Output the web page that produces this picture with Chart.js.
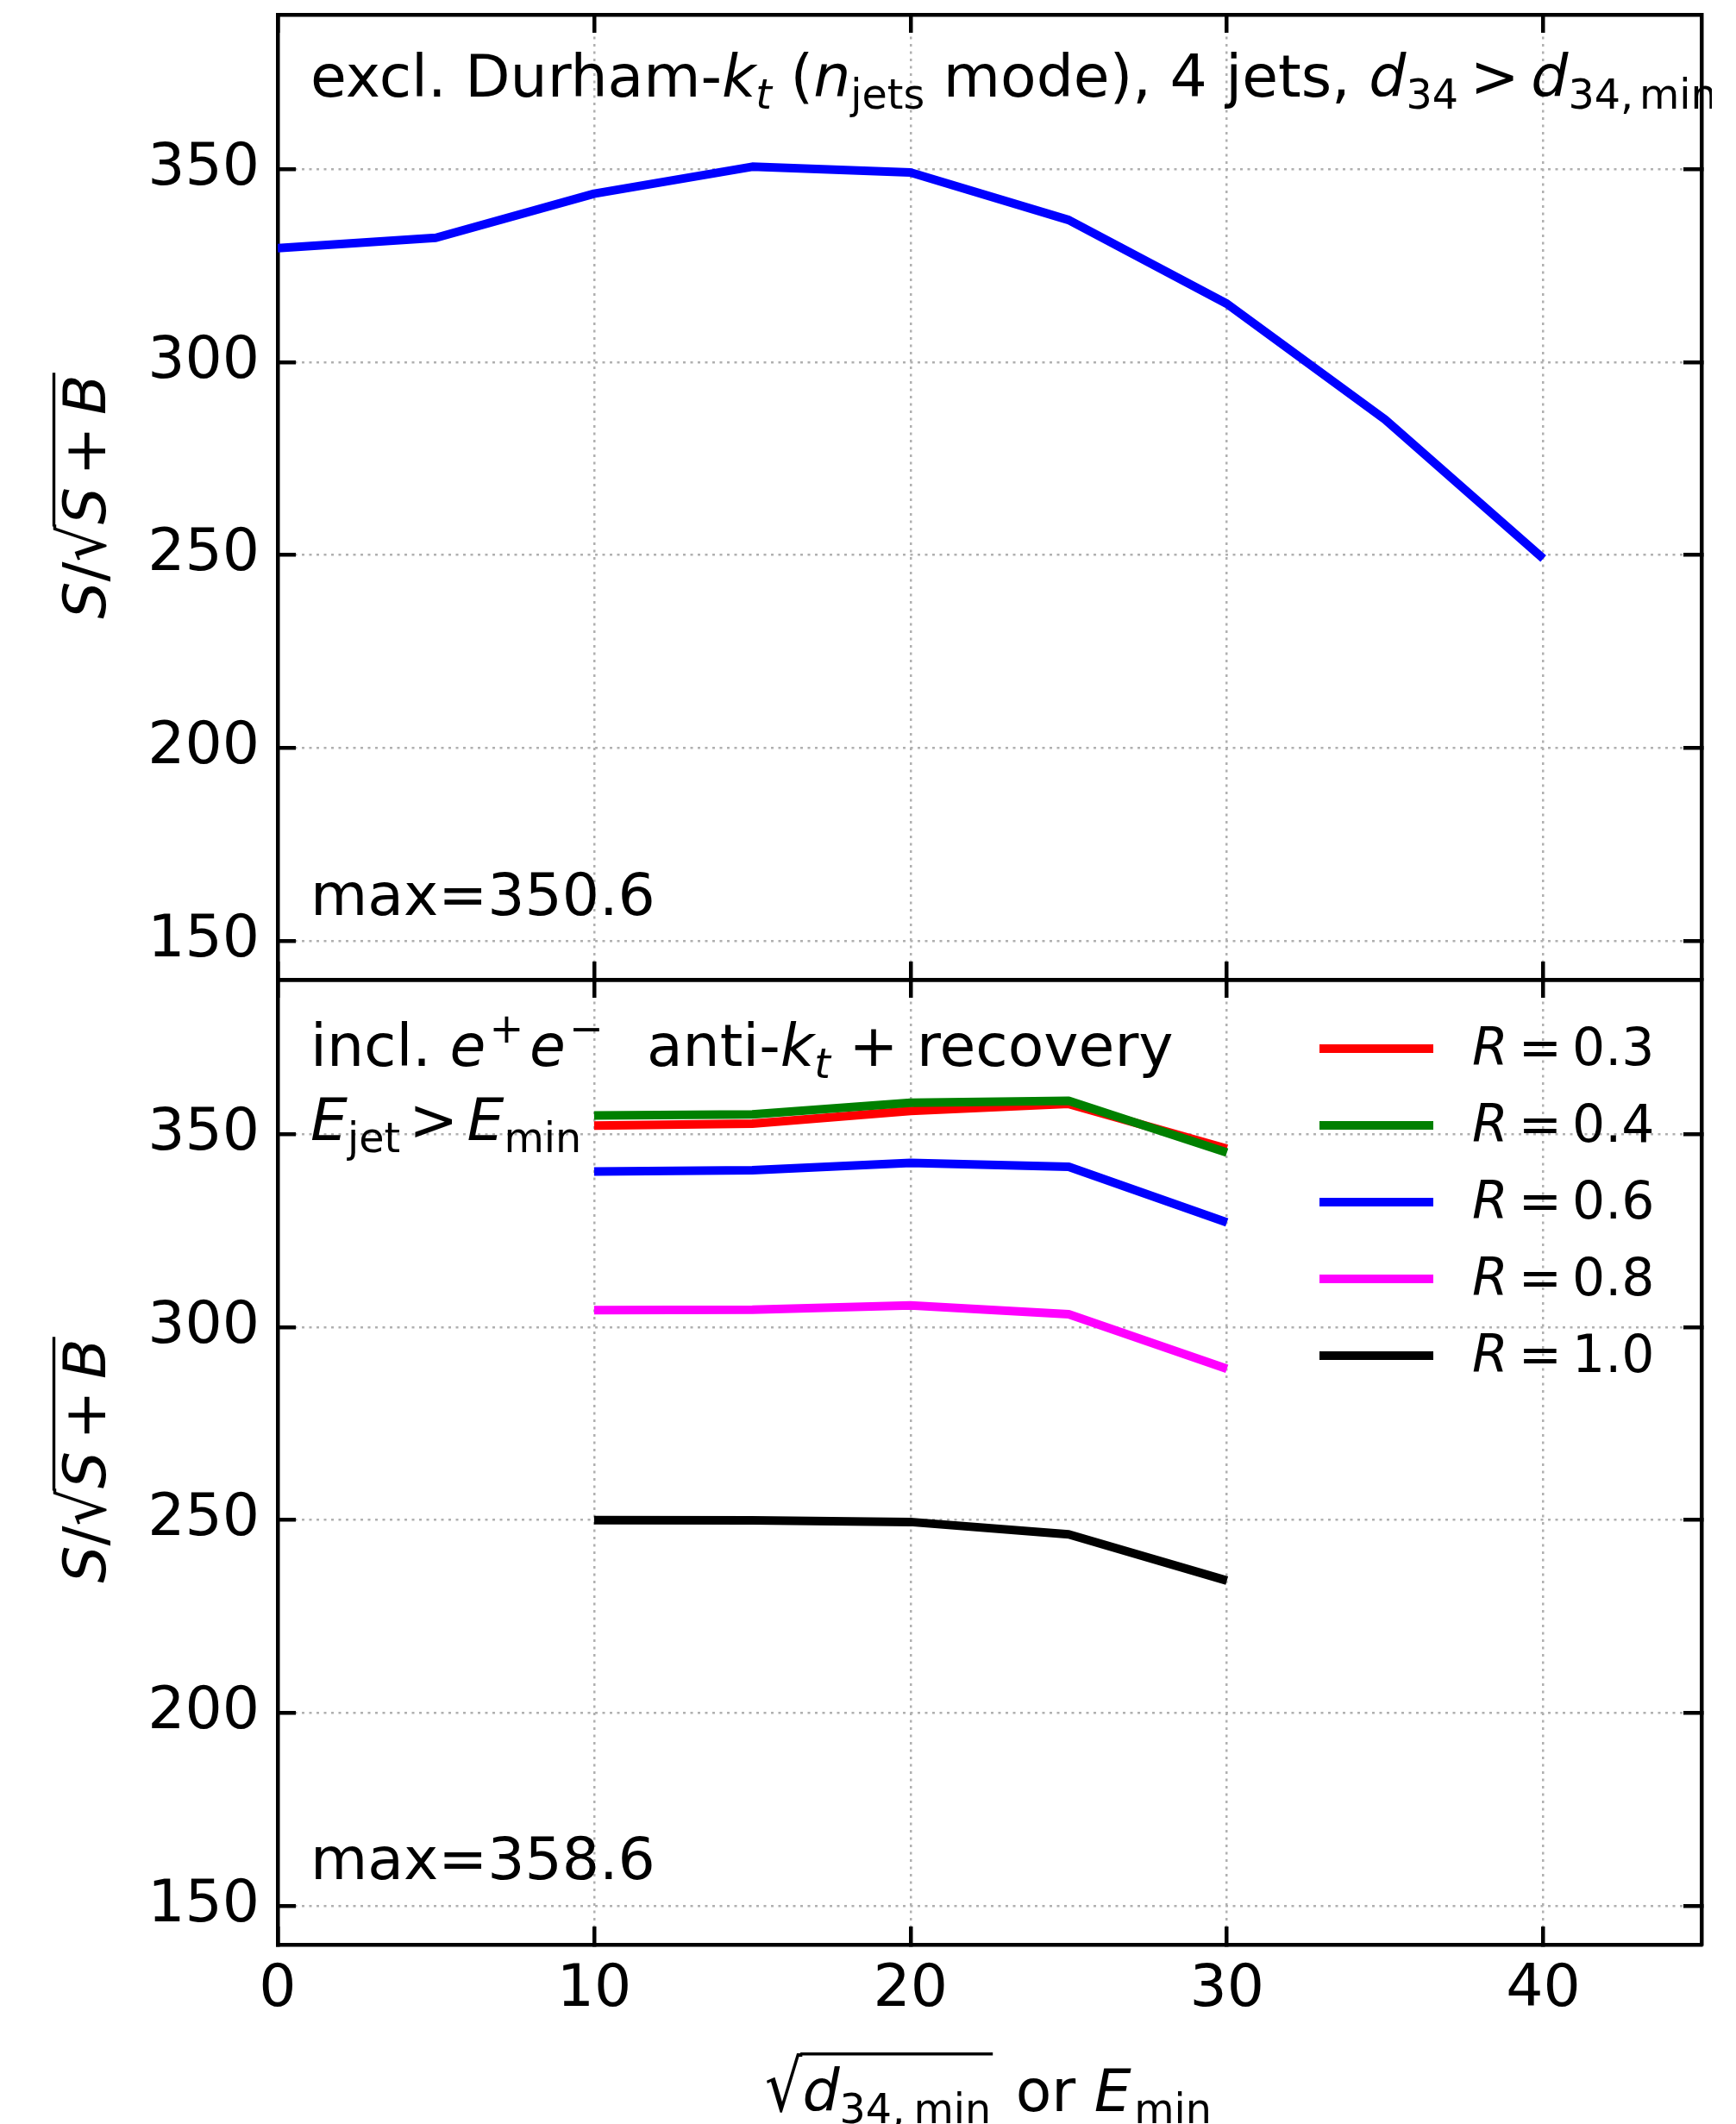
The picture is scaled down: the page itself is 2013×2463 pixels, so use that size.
<!DOCTYPE html>
<html>
<head>
<meta charset="utf-8">
<script src="https://cdn.jsdelivr.net/npm/chart.js@4.4.0/dist/chart.umd.min.js"></script>
<style>
  html, body { margin: 0; padding: 0; background: #fff; }
  #wrap { position: relative; width: 2013px; height: 2463px; }
  #wrap canvas { position: absolute; left: 0; top: 0; }
</style>
</head>
<body>
<div id="wrap">
  <canvas id="topChart" width="2013" height="2463"></canvas>
  <canvas id="bottomChart" width="2013" height="2463"></canvas>
</div>
<script>
// cut values: sqrt(d34,min) for Durham, E_min for anti-kt
const cutDurham = [0, 5, 10, 15, 20, 25, 30, 35, 40];
const durhamSig = [329.5, 332.2, 343.6, 350.6, 349.1, 336.8, 315.1, 285.1, 249.1];

const cutAntiKt = [10, 15, 20, 25, 30];
const sigR03 = [352.2, 352.7, 356.0, 357.8, 346.2];
const sigR04 = [354.8, 355.1, 358.1, 358.6, 345.2];
const sigR06 = [340.3, 340.6, 342.5, 341.5, 327.1];
const sigR08 = [304.4, 304.5, 305.6, 303.3, 289.2];
const sigR10 = [250.0, 249.9, 249.5, 246.3, 234.3];

const radii = ['0.3', '0.4', '0.6', '0.8', '1.0'];
const radiusColors = ['#ff0000', '#008000', '#0000ff', '#ff00ff', '#000000'];

const xTicks = [0, 10, 20, 30, 40];
const yTicks = [150, 200, 250, 300, 350];

Chart.defaults.font.family = '"DejaVu Sans"';
Chart.defaults.color = '#000';

const FONT = '"DejaVu Sans"';

// draws mixed text: italic pieces, sub/superscripts, small gaps and a radical with overline
function drawRich(ctx, parts, x, y, size, align) {
  const segs = parts.map(p => {
    if (p.gap) return { p, w: p.gap * size, dy: 0 };
    const s = (p.sub || p.sup) ? size * 0.7 : size;
    const font = (p.it ? 'italic ' : '') + s + 'px ' + FONT;
    ctx.font = font;
    return { p, font, w: ctx.measureText(p.t).width, dy: p.sub ? size * 0.2 : (p.sup ? -size * 0.4 : 0) };
  });
  const total = segs.reduce((a, s) => a + s.w, 0);
  let cx = align === 'center' ? x - total / 2 : x;
  ctx.textAlign = 'left';
  ctx.textBaseline = 'alphabetic';
  ctx.fillStyle = '#000';
  let over = null;
  segs.forEach(s => {
    if (s.p.gap) { cx += s.w; return; }
    ctx.font = s.font;
    if (s.p.root) {
      const m = ctx.measureText(s.p.t);
      const sy = s.p.root * size / m.actualBoundingBoxAscent;
      ctx.save();
      ctx.translate(cx, y);
      ctx.scale(1, sy);
      ctx.fillText(s.p.t, 0, 0);
      ctx.restore();
      over = { x0: cx + m.actualBoundingBoxRight - 3, y: y - s.p.root * size + size * 0.025 };
    } else {
      ctx.fillText(s.p.t, cx, y + s.dy);
    }
    cx += s.w;
    if (s.p.end && over) {
      ctx.save();
      ctx.strokeStyle = '#000';
      ctx.lineWidth = size * 0.05;
      ctx.beginPath();
      ctx.moveTo(over.x0, over.y);
      ctx.lineTo(cx + 2, over.y);
      ctx.stroke();
      ctx.restore();
      over = null;
    }
  });
}

const richText = {
  id: 'richText',
  afterDraw(chart, args, opts) {
    const ctx = chart.ctx;
    ctx.save();
    ctx.beginPath();
    ctx.rect(0, 0, opts.clipRight || chart.width, chart.height);
    ctx.clip();
    // legend handles, one per dataset, with the dataset's own colour and width
    if (opts.legend) {
      const lg = opts.legend;
      chart.data.datasets.forEach((ds, i) => {
        const y = lg.y0 + i * lg.dy;
        ctx.save();
        ctx.strokeStyle = ds.borderColor;
        ctx.lineWidth = ds.borderWidth;
        ctx.lineCap = 'butt';
        ctx.beginPath();
        ctx.moveTo(lg.x0, y);
        ctx.lineTo(lg.x1, y);
        ctx.stroke();
        ctx.restore();
        drawRich(ctx, [{ t: 'R', it: 1 }, { gap: 0.2 }, { t: '=' }, { gap: 0.2 }, { t: radii[i] }],
          lg.tx, y + lg.base, lg.size, 'left');
      });
    }
    (opts.items || []).forEach(it => {
      ctx.save();
      if (it.rotate) {
        ctx.translate(it.x, it.y);
        ctx.rotate(-Math.PI / 2);
        drawRich(ctx, it.parts, 0, 0, it.size, it.align);
      } else {
        drawRich(ctx, it.parts, it.x, it.y, it.size, it.align);
      }
      ctx.restore();
    });
    ctx.restore();
  }
};

const yTitleParts = [
  { t: 'S', it: 1 }, { t: '/' }, { t: '\u221A', root: 0.9 },
  { t: 'S', it: 1 }, { gap: 0.2 }, { t: '+' }, { gap: 0.2 }, { t: 'B', it: 1, end: 1 }
];

const gridStyle = { color: '#b0b0b0', lineWidth: 2.5, tickLength: -21, tickWidth: 4.5, tickColor: '#000' };
const borderStyle = { color: '#000', width: 4.5, dash: [3, 5.5] };

function fixSize(w, h) {
  return s => {
    if (w !== null) s.width = w;
    if (h !== null) s.height = h;
    s.paddingTop = 0; s.paddingBottom = 0; s.paddingLeft = 0; s.paddingRight = 0;
  };
}

function makeScales(xLabels, xBottomH, xTopH) {
  return {
    x: {
      type: 'linear', axis: 'x', position: 'bottom', min: 0, max: 45,
      afterBuildTicks: s => { s.ticks = xTicks.map(v => ({ value: v })); },
      afterFit: fixSize(null, xBottomH),
      ticks: { display: xLabels, font: { size: 68 }, padding: 34, maxRotation: 0 },
      grid: gridStyle, border: borderStyle
    },
    x2: {
      type: 'linear', axis: 'x', position: 'top', min: 0, max: 45,
      afterBuildTicks: s => { s.ticks = xTicks.map(v => ({ value: v })); },
      afterFit: fixSize(null, xTopH),
      ticks: { display: false },
      grid: Object.assign({}, gridStyle, { drawOnChartArea: false }), border: borderStyle
    },
    y: {
      type: 'linear', axis: 'y', position: 'left', min: 140, max: 390,
      afterBuildTicks: s => { s.ticks = yTicks.map(v => ({ value: v })); },
      afterFit: fixSize(322, null),
      ticks: { font: { size: 68 }, padding: 42 },
      grid: gridStyle, border: borderStyle
    },
    y2: {
      type: 'linear', axis: 'y', position: 'right', min: 140, max: 390,
      afterBuildTicks: s => { s.ticks = yTicks.map(v => ({ value: v })); },
      afterFit: fixSize(40, null),
      ticks: { display: false },
      grid: Object.assign({}, gridStyle, { drawOnChartArea: false }), border: borderStyle
    }
  };
}

function points(xs, ys) {
  return xs.map((x, i) => ({ x: x, y: ys[i] }));
}

const lineBase = { pointRadius: 0, borderWidth: 10, tension: 0, fill: false,
  borderJoinStyle: 'round', xAxisID: 'x', yAxisID: 'y' };

// upper panel: exclusive Durham kt
new Chart(document.getElementById('topChart'), {
  type: 'line',
  data: {
    datasets: [Object.assign({}, lineBase, {
      label: 'Durham',
      data: points(cutDurham, durhamSig),
      borderColor: '#0000ff', backgroundColor: '#0000ff'
    })]
  },
  options: {
    responsive: false, animation: false, events: [],
    layout: { padding: 0 },
    scales: makeScales(false, 2463 - 1136, 17),
    plugins: {
      legend: { display: false },
      tooltip: { enabled: false },
      richText: {
        clipRight: 1985,
        items: [
          { x: 360, y: 112, size: 68, parts: [
            { t: 'excl. Durham-' }, { t: 'k', it: 1 }, { t: 't', it: 1, sub: 1 }, { t: ' (' },
            { t: 'n', it: 1 }, { t: 'jets', sub: 1 }, { t: ' mode), 4 jets, ' },
            { t: 'd', it: 1 }, { t: '34', sub: 1 }, { gap: 0.2 }, { t: '>' }, { gap: 0.2 },
            { t: 'd', it: 1 }, { t: '34,', sub: 1 }, { gap: 0.1 }, { t: 'min', sub: 1 }
          ] },
          { x: 360, y: 1061, size: 68, parts: [{ t: 'max=350.6' }] },
          { x: 122, y: 576, size: 68, rotate: true, align: 'center', parts: yTitleParts }
        ]
      }
    }
  },
  plugins: [richText]
});

// lower panel: inclusive anti-kt for several radii
const radiusSeries = [sigR03, sigR04, sigR06, sigR08, sigR10];

new Chart(document.getElementById('bottomChart'), {
  type: 'line',
  data: {
    datasets: radiusSeries.map((vals, i) => Object.assign({}, lineBase, {
      label: 'R = ' + radii[i],
      data: points(cutAntiKt, vals),
      borderColor: radiusColors[i], backgroundColor: radiusColors[i],
      order: radiusSeries.length - i
    }))
  },
  options: {
    responsive: false, animation: false, events: [],
    layout: { padding: 0 },
    scales: makeScales(true, 2463 - 2255, 1136),
    plugins: {
      tooltip: { enabled: false },
      legend: { display: false },
      richText: {
        legend: { x0: 1530, x1: 1662, y0: 1216, dy: 89, tx: 1707, base: 19, size: 60 },
        items: [
          { x: 360, y: 1236, size: 68, parts: [
            { t: 'incl. ' }, { t: 'e', it: 1 }, { gap: 0.06 }, { t: '+', sup: 1 }, { gap: 0.1 },
            { t: 'e', it: 1 }, { gap: 0.06 }, { t: '\u2212', sup: 1 }, { gap: 0.1 },
            { t: '  anti-' }, { t: 'k', it: 1 }, { t: 't', it: 1, sub: 1 }, { t: ' + recovery' }
          ] },
          { x: 360, y: 1322, size: 68, parts: [
            { t: 'E', it: 1 }, { t: 'jet', sub: 1 }, { gap: 0.15 }, { t: '>' }, { gap: 0.15 },
            { t: 'E', it: 1 }, { t: 'min', sub: 1 }
          ] },
          { x: 360, y: 2179, size: 68, parts: [{ t: 'max=358.6' }] },
          { x: 122, y: 1694, size: 68, rotate: true, align: 'center', parts: yTitleParts },
          { x: 1146, y: 2448, size: 68, align: 'center', parts: [
            { t: '\u221A', root: 1.0 }, { t: 'd', it: 1 }, { t: '34,', sub: 1 }, { gap: 0.15 },
            { t: 'min', sub: 1, end: 1 }, { gap: 0.1 }, { t: ' or ' }, { t: 'E', it: 1 }, { gap: 0.05 },
            { t: 'min', sub: 1 }
          ] }
        ]
      }
    }
  },
  plugins: [richText]
});
</script>
</body>
</html>
